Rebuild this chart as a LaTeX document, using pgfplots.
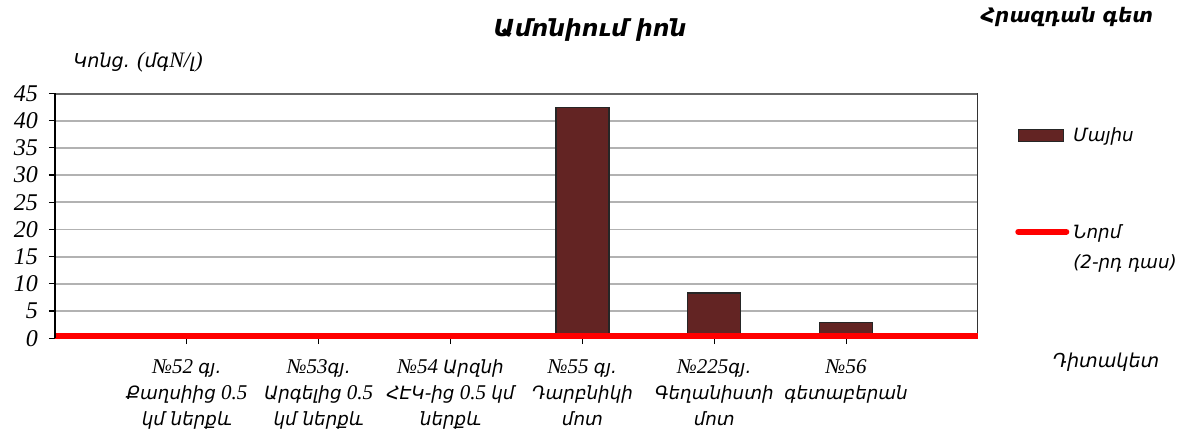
\documentclass[border=0pt]{standalone}
\usepackage{fontspec}
\setmainfont{Liberation Serif}
\newfontfamily\arm[Scale=0.87]{DejaVu Sans}
\usepackage{pgfplots}
\pgfplotsset{compat=1.18}
\definecolor{barc}{RGB}{99,36,35}
\newcommand{\A}[1]{{\arm\itshape #1}}
\pgfplotsset{
  barleg/.style={legend image code/.code={\draw[##1] (0pt,-3pt) rectangle (22.5pt,3pt);}},
  lineleg/.style={legend image code/.code={\draw[##1] (0pt,-0.5pt) -- (24pt,-0.5pt);}},
}
\begin{document}
\begin{tikzpicture}
\path[use as bounding box] (0,0) rectangle (592pt,216pt);
\begin{axis}[
  at={(27.5pt,46.9pt)}, anchor=south west,
  scale only axis, width=461.5pt, height=122.35pt,
  xmin=0, xmax=7, ymin=0, ymax=45,
  ytick={0,5,...,45},
  xtick={1,...,6},
  xticklabels={
    {{\itshape №52} \A{գյ.}\\\A{Քաղսիից} {\itshape 0.5}\\\A{կմ ներքև}},
    {{\itshape №53}\A{գյ.}\\\A{Արգելից} {\itshape 0.5}\\\A{կմ ներքև}},
    {{\itshape №54} \A{Արզնի}\\\A{ՀԷԿ-ից} {\itshape 0.5} \A{կմ}\\\A{ներքև}},
    {{\itshape №55} \A{գյ.}\\\A{Դարբնիկի}\\\A{մոտ}},
    {{\itshape №225}\A{գյ.}\\\A{Գեղանիստի}\\\A{մոտ}},
    {{\itshape №56}\\\A{գետաբերան}}},
  xticklabel style={align=center, font=\fontsize{10.5}{13}\selectfont, yshift=-4pt, anchor=north},
  yticklabel style={font=\fontsize{12}{13}\selectfont\itshape, xshift=-2pt},
  /pgf/number format/assume math mode=true,
  tick pos=left,
  tick align=outside,
  major tick length=3pt,
  tick style={black, line width=0.6pt},
  ymajorgrids,
  grid style={gray!60, line width=0.9pt},
  axis line style={draw=none},
  clip=true,
  legend style={draw=none, fill=none, at={(1.04,0.88)}, anchor=north west,
    font=\fontsize{10.5}{13}\selectfont, row sep=34pt, inner sep=0pt,
    /tikz/every even column/.append style={column sep=4pt}},
  legend cell align=left,
]
% frame
\draw[gray!80!black, line width=1.2pt] (rel axis cs:0,1) -- (rel axis cs:1,1);
\draw[black!80, line width=0.9pt] (rel axis cs:1,0) -- (rel axis cs:1,1);
\addplot[ybar, bar width=26.5pt, fill=barc, draw=black!85, line width=0.6pt, barleg]
  coordinates {(1,0) (2,0) (3,0) (4,42.4) (5,8.3) (6,2.85)};
\addlegendentry{\A{Մայիս}}
\addplot[red, line width=3pt, line cap=round, lineleg]
  coordinates {(0,0.4) (7,0.4)};
\addlegendentry{\begin{tabular}[t]{@{}l@{}}\A{Նորմ}\\[2pt]\A{(2-րդ դաս)}\end{tabular}}
\end{axis}
\draw[black, line width=0.9pt] (27.5pt,46.9pt) -- (27.5pt,169.25pt);
\node[font=\fontsize{13.5}{15}\selectfont\bfseries] at (295pt,201pt) {\A{Ամոնիում իոն}};
\node[font=\fontsize{11.5}{15}\selectfont\bfseries] at (533.5pt,207.5pt) {\A{Հրազդան գետ}};
\node[font=\fontsize{11}{13}\selectfont] at (69pt,185pt) {\A{Կոնց.} {\itshape (}\A{մգ}{\itshape N/}\A{լ}{\itshape )}};
\node[font=\fontsize{11}{13}\selectfont] at (553pt,35pt) {\A{Դիտակետ}};
\end{tikzpicture}
\end{document}
